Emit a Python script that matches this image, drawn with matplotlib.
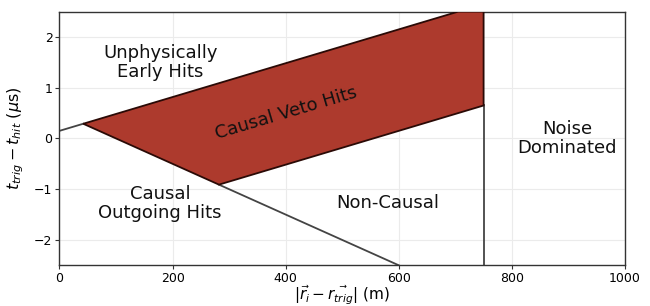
import matplotlib
matplotlib.use("Agg")
import matplotlib.pyplot as plt
from matplotlib.patches import Polygon

# Data
veto_x = [42, 705, 750, 750, 282]
veto_y = [0.29, 2.5, 2.5, 0.65, -0.91]
early_x = [0, 42]
early_y = [0.15, 0.29]
outgoing_x = [282, 600]
outgoing_y = [-0.91, -2.5]
noise_x = [750, 750]
noise_y = [-2.5, 0.65]

labels = ["Unphysically\nEarly Hits", "Causal Veto Hits", "Causal\nOutgoing Hits", "Non-Causal", "Noise\nDominated"]
label_x = [178, 400, 178, 580, 898]
label_y = [1.5, 0.5, -1.28, -1.28, 0.0]
label_rot = [0, 16.6, 0, 0, 0]

xticks = [0, 200, 400, 600, 800, 1000]
yticks = [-2, -1, 0, 1, 2]

fig = plt.figure(figsize=(6.5, 3.06), dpi=100)
ax = fig.add_axes([0.0915, 0.133, 0.87, 0.829])

ax.grid(True, color="#ebebeb", linewidth=0.8, zorder=0)
ax.set_axisbelow(True)

ax.plot(early_x, early_y, color="#444444", lw=1.3, zorder=2)
ax.plot(outgoing_x, outgoing_y, color="#444444", lw=1.3, zorder=2)
ax.plot(noise_x, noise_y, color="#444444", lw=1.3, zorder=2)
poly = Polygon(list(zip(veto_x, veto_y)), closed=True, facecolor="#ad3a2d",
               edgecolor="#2a0a06", lw=1.3, zorder=3)
ax.add_patch(poly)

for t, x, y, r in zip(labels, label_x, label_y, label_rot):
    ax.text(x, y, t, ha="center", va="center", fontsize=13, rotation=r,
            rotation_mode="anchor", linespacing=1.1, color="#111111", zorder=4)

ax.set_xlim(0, 1000)
ax.set_ylim(-2.5, 2.5)
ax.set_xticks(xticks)
ax.set_yticks(yticks)
ax.tick_params(labelsize=9, length=3, pad=2, color="#333333")
for s in ax.spines.values():
    s.set_color("#333333")
    s.set_linewidth(1.0)

ax.set_xlabel(r"$|\vec{r_i} - \vec{r_{trig}}|$ (m)", fontsize=11, labelpad=-1)
ax.set_ylabel(r"$t_{trig} - t_{hit}$ ($\mu$s)", fontsize=11.5, labelpad=6)

fig.savefig("out.png", dpi=100)
